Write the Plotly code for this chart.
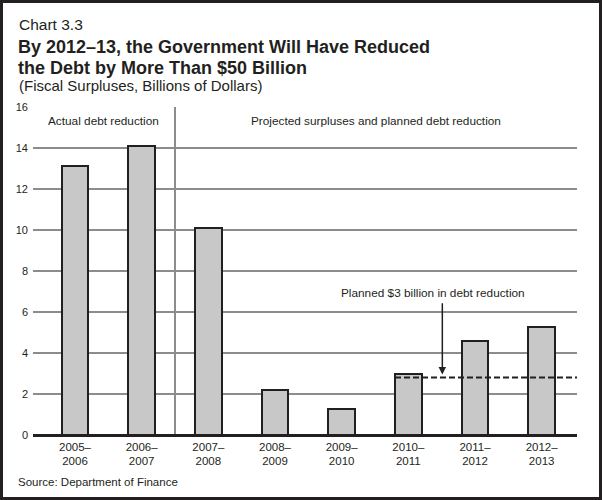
import plotly.graph_objects as go

# ---- data ----
tick_labels = ["2005–<br>2006", "2006–<br>2007", "2007–<br>2008", "2008–<br>2009",
               "2009–<br>2010", "2010–<br>2011", "2011–<br>2012", "2012–<br>2013"]
surpluses = [13.1, 14.1, 10.1, 2.2, 1.25, 3.0, 4.6, 5.25]
planned_debt_reduction = 2.8
y_ticks = [0, 2, 4, 6, 8, 10, 12, 14, 16]

positions = list(range(len(tick_labels)))

# ---- layout geometry ----
W, H = 602, 500
ML, MR, MT, MB = 33, 25, 107, 65
PW, PH = W - ML - MR, H - MT - MB


def px(x):
    return (x - ML) / PW


def py(y):
    return (H - MB - y) / PH


FONT = "Liberation Sans, Arial, Helvetica, sans-serif"
TXT = "#231f20"
GRID = "#8c8c8c"

fig = go.Figure()

fig.add_trace(go.Bar(
    x=positions, y=surpluses, width=0.4,
    marker=dict(color="#c8c8c8", line=dict(color=TXT, width=2)),
    hoverinfo="y", showlegend=False,
))

fig.add_trace(go.Scatter(
    x=[positions[5] - 0.2, positions[-1] + 0.53],
    y=[planned_debt_reduction, planned_debt_reduction],
    mode="lines", line=dict(color=TXT, width=2, dash="6px,3px"),
    hoverinfo="skip", showlegend=False,
))

shapes = [
    dict(type="line", xref="x", yref="y", x0=1.5, x1=1.5, y0=0, y1=16,
         line=dict(color=GRID, width=2), layer="below"),
    dict(type="rect", xref="paper", yref="paper",
         x0=px(1.5), x1=px(W - 1.5), y0=py(H - 1.5), y1=py(1.5),
         line=dict(color=TXT, width=3)),
]

annotations = [
    dict(text="Chart 3.3", x=px(16.5), y=py(24), xanchor="left", yanchor="middle",
         font=dict(size=15.5, color=TXT)),
    dict(text="<b>By 2012–13, the Government Will Have Reduced</b>", x=px(16), y=py(47),
         xanchor="left", yanchor="middle", font=dict(size=18, color=TXT)),
    dict(text="<b>the Debt by More Than $50 Billion</b>", x=px(16), y=py(67.5),
         xanchor="left", yanchor="middle", font=dict(size=18, color=TXT)),
    dict(text="(Fiscal Surpluses, Billions of Dollars)", x=px(16.5), y=py(85.5),
         xanchor="left", yanchor="middle", font=dict(size=15, color=TXT)),
    dict(text="Source: Department of Finance", x=px(16), y=py(481.5),
         xanchor="left", yanchor="middle", font=dict(size=11.5, color=TXT)),
    dict(text="Actual debt reduction", x=px(103), y=py(121),
         xanchor="center", yanchor="middle", font=dict(size=11.8, color=TXT)),
    dict(text="Projected surpluses and planned debt reduction", x=px(376), y=py(121),
         xanchor="center", yanchor="middle", font=dict(size=11.8, color=TXT)),
    dict(text="Planned $3 billion in debt reduction", x=px(433), y=py(293),
         xanchor="center", yanchor="middle", font=dict(size=11.8, color=TXT)),
    dict(text="", xref="x", yref="y", axref="x", ayref="y",
         x=5.51, y=planned_debt_reduction + 0.15, ax=5.51, ay=6.5,
         showarrow=True, arrowhead=2, arrowsize=1, arrowwidth=1.5, arrowcolor=TXT),
]
for a in annotations:
    a.setdefault("xref", "paper")
    a.setdefault("yref", "paper")
    a.setdefault("showarrow", False)

fig.update_layout(
    width=W, height=H,
    margin=dict(l=ML, r=MR, t=MT, b=MB),
    paper_bgcolor="white", plot_bgcolor="white",
    font=dict(family=FONT, size=11, color=TXT),
    shapes=shapes, annotations=annotations,
    bargap=0,
    xaxis=dict(
        range=[-0.63, 7.53], tickmode="array", tickvals=positions, ticktext=tick_labels,
        showgrid=False, zeroline=False, showline=False, ticks="",
        tickfont=dict(size=11.5, color=TXT), ticklabelstandoff=3, fixedrange=True,
    ),
    yaxis=dict(
        range=[0, 16], tickmode="array", tickvals=y_ticks,
        showgrid=True, gridcolor=GRID, gridwidth=2,
        zeroline=True, zerolinecolor=TXT, zerolinewidth=3,
        showline=False, ticks="", tickfont=dict(size=11, color=TXT),
        ticklabelstandoff=4, fixedrange=True,
    ),
)

fig.write_html("out.html", config={"displayModeBar": False},
               post_script="document.body.style.margin='0px';")
